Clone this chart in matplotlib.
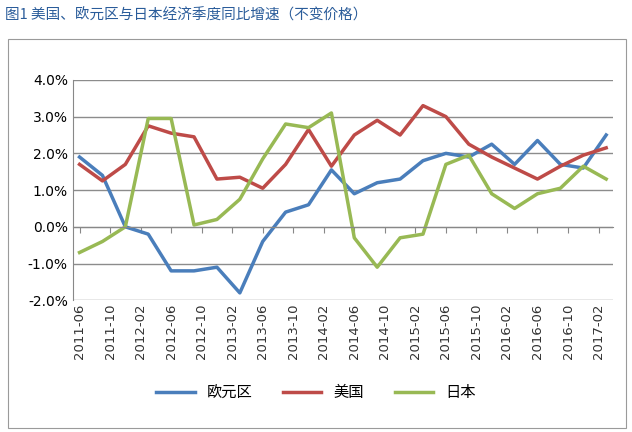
import matplotlib
matplotlib.use("Agg")
import matplotlib.pyplot as plt
from matplotlib import font_manager as fm
from matplotlib.patches import Rectangle
import numpy as np

cjk = [f.name for f in fm.fontManager.ttflist if "CJK" in f.name]
cands = [n for n in ["Noto Sans CJK SC","Noto Sans CJK JP","Noto Sans CJK TC","Noto Sans CJK KR"] if n in cjk] or cjk[:1]
plt.rcParams['font.family'] = 'sans-serif'
plt.rcParams['font.sans-serif'] = cands + ['DejaVu Sans']

tick_labels = ["2011-06","2011-10","2012-02","2012-06","2012-10","2013-02","2013-06","2013-10",
               "2014-02","2014-06","2014-10","2015-02","2015-06","2015-10","2016-02","2016-06",
               "2016-10","2017-02"]
euro = [1.9,1.4,0.0,-0.2,-1.2,-1.2,-1.1,-1.8,-0.4,0.4,0.6,1.55,0.9,1.2,1.3,1.8,2.0,1.9,2.25,1.7,2.35,1.7,1.6,2.5]
usa = [1.7,1.25,1.7,2.75,2.55,2.45,1.3,1.35,1.05,1.7,2.65,1.65,2.5,2.9,2.5,3.3,3.0,2.25,1.9,1.6,1.3,1.65,1.95,2.15]
japan = [-0.7,-0.4,0.0,2.95,2.95,0.05,0.2,0.75,1.85,2.8,2.7,3.1,-0.3,-1.1,-0.3,-0.2,1.7,1.95,0.9,0.5,0.9,1.05,1.65,1.3]

fig = plt.figure(figsize=(6.32,4.32), dpi=100)
fig.text(0.008, 0.965, "图1 美国、欧元区与日本经济季度同比增速（不变价格）", color="#2a5c9a", fontsize=10.5, va="center")
fig.add_artist(Rectangle((0.012,0.01),0.978,0.90, transform=fig.transFigure, fill=False, ec="#9a9a9a", lw=0.8))

ax = fig.add_axes([0.115, 0.305, 0.855, 0.51])
x = np.arange(len(euro))
ax.plot(x, euro, color="#4a7ebb", lw=2.5, label="欧元区")
ax.plot(x, usa, color="#be4b48", lw=2.5, label="美国")
ax.plot(x, japan, color="#98b954", lw=2.5, label="日本")
ax.set_ylim(-2.0, 4.0)
ax.set_yticks(np.arange(-2, 4.01, 1))
ax.set_yticklabels([f"{v:.1f}%" for v in np.arange(-2, 4.01, 1)], fontsize=10, fontfamily="DejaVu Sans")
tpos = np.arange(len(tick_labels))*4/3
ax.set_xlim(-0.3, 23.3)
ax.set_xticks(tpos)
ax.spines['bottom'].set_position(('data', 0))
ax.tick_params(axis='x', length=4, color="#888", labelbottom=False)
ax.grid(axis='y', color="#8c8c8c", lw=1)
ax.set_axisbelow(True)
for s in ['top','right']:
    ax.spines[s].set_visible(False)
ax.spines['left'].set_color("#888")
ax.spines['bottom'].set_color("#888")
ax.tick_params(axis='y', length=0)
for p, t in zip(tpos, tick_labels):
    ax.text(p, -2.1, t, rotation=90, ha='center', va='top', fontsize=9.5, fontfamily="DejaVu Sans", color="#333")
fig.legend(loc="lower center", bbox_to_anchor=(0.5, 0.04), ncol=3, frameon=False, fontsize=11, handlelength=2.5)
fig.savefig("out.png", dpi=100)
